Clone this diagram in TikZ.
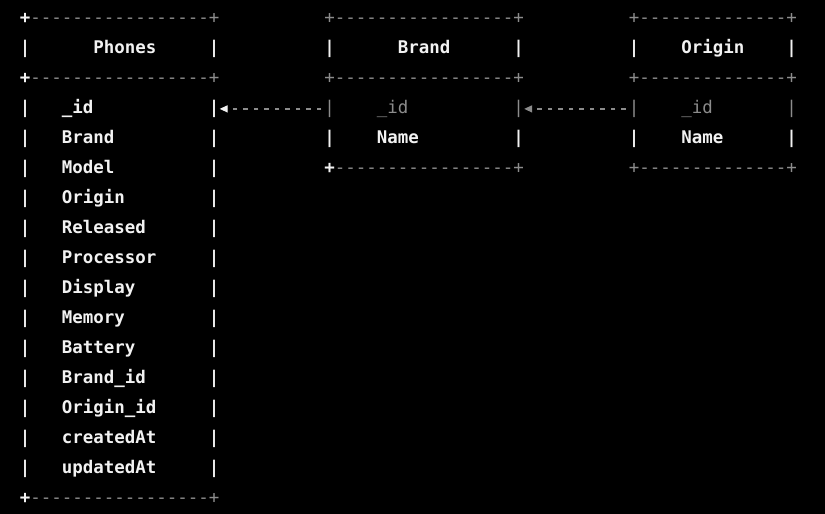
\documentclass[tikz,border=0pt]{standalone}
\usepackage{fontspec}
\setmonofont{DejaVu Sans Mono}
\usetikzlibrary{arrows.meta}
\definecolor{fg}{HTML}{F2F2F2}
\definecolor{dimgray}{HTML}{8C8C8C}
\definecolor{bg}{HTML}{000000}
\newcommand{\mono}{\fontsize{17.44pt}{20pt}\selectfont\ttfamily}

\begin{document}
\begin{tikzpicture}[
    x = 10.5pt, y = -30pt,
    txt/.style = {inner sep=0pt, anchor=base west, text=fg, font=\mono\bfseries},
    faint/.style = {txt, text=dimgray, font=\mono},
    link/.style = {draw=dimgray, line width=1.3pt,
                   dash pattern=on 4.5pt off 6pt, dash phase=7.5pt},
    ]

  \path[use as bounding box, fill=bg] (-19.75pt,23.5pt) rectangle (805.25pt,-490.5pt) ;

  % Phones
  \node[txt] (phTL) at (0,0) {+} ;
  \node[faint] (phTop) at (1,0) {-----------------+} ;
  \node[txt] (phHL) at (0,1) {|} ;
  \node[txt] (phones) at (7,1) {Phones} ;
  \node[txt] (phHR) at (18,1) {|} ;
  \node[txt] (phML) at (0,2) {+} ;
  \node[faint] (phMid) at (1,2) {-----------------+} ;
  \foreach \f [count=\i from 3] in {\_id,Brand,Model,Origin,Released,Processor,Display,Memory,Battery,Brand\_id,Origin\_id,createdAt,updatedAt} {
    \node[txt] (phL\i) at (0,\i) {|} ;
    \node[txt] (phF\i) at (4,\i) {\f} ;
    \node[txt] (phR\i) at (18,\i) {|} ;
  }
  \node[txt] (phBL) at (0,16) {+} ;
  \node[faint] (phBot) at (1,16) {-----------------+} ;

  % Brand
  \node[faint] (brTop) at (29,0) {+-----------------+} ;
  \node[txt] (brHL) at (29,1) {|} ;
  \node[txt] (brand) at (36,1) {Brand} ;
  \node[txt] (brHR) at (47,1) {|} ;
  \node[faint] (brMid) at (29,2) {+-----------------+} ;
  \node[faint] (brL3) at (29,3) {|} ;
  \node[faint] (brF3) at (34,3) {\_id} ;
  \node[faint] (brR3) at (47,3) {|} ;
  \node[txt] (brL4) at (29,4) {|} ;
  \node[txt] (brF4) at (34,4) {Name} ;
  \node[txt] (brR4) at (47,4) {|} ;
  \node[txt] (brBL) at (29,5) {+} ;
  \node[faint] (brBot) at (30,5) {-----------------+} ;

  % Origin
  \node[faint] (orTop) at (58,0) {+--------------+} ;
  \node[txt] (orHL) at (58,1) {|} ;
  \node[txt] (origin) at (63,1) {Origin} ;
  \node[txt] (orHR) at (73,1) {|} ;
  \node[faint] (orMid) at (58,2) {+--------------+} ;
  \node[faint] (orL3) at (58,3) {|} ;
  \node[faint] (orF3) at (63,3) {\_id} ;
  \node[faint] (orR3) at (73,3) {|} ;
  \node[txt] (orL4) at (58,4) {|} ;
  \node[txt] (orF4) at (63,4) {Name} ;
  \node[txt] (orR4) at (73,4) {|} ;
  \node[faint] (orBot) at (58,5) {+--------------+} ;

  \draw[link, -{Triangle[length=8pt, width=7pt, color=fg]}] (brL3.west) -- (phR3.east) ;
  \draw[link, -{Triangle[length=8pt, width=7pt, color=dimgray]}] (orL3.west) -- (brR3.east) ;
\end{tikzpicture}
\end{document}
